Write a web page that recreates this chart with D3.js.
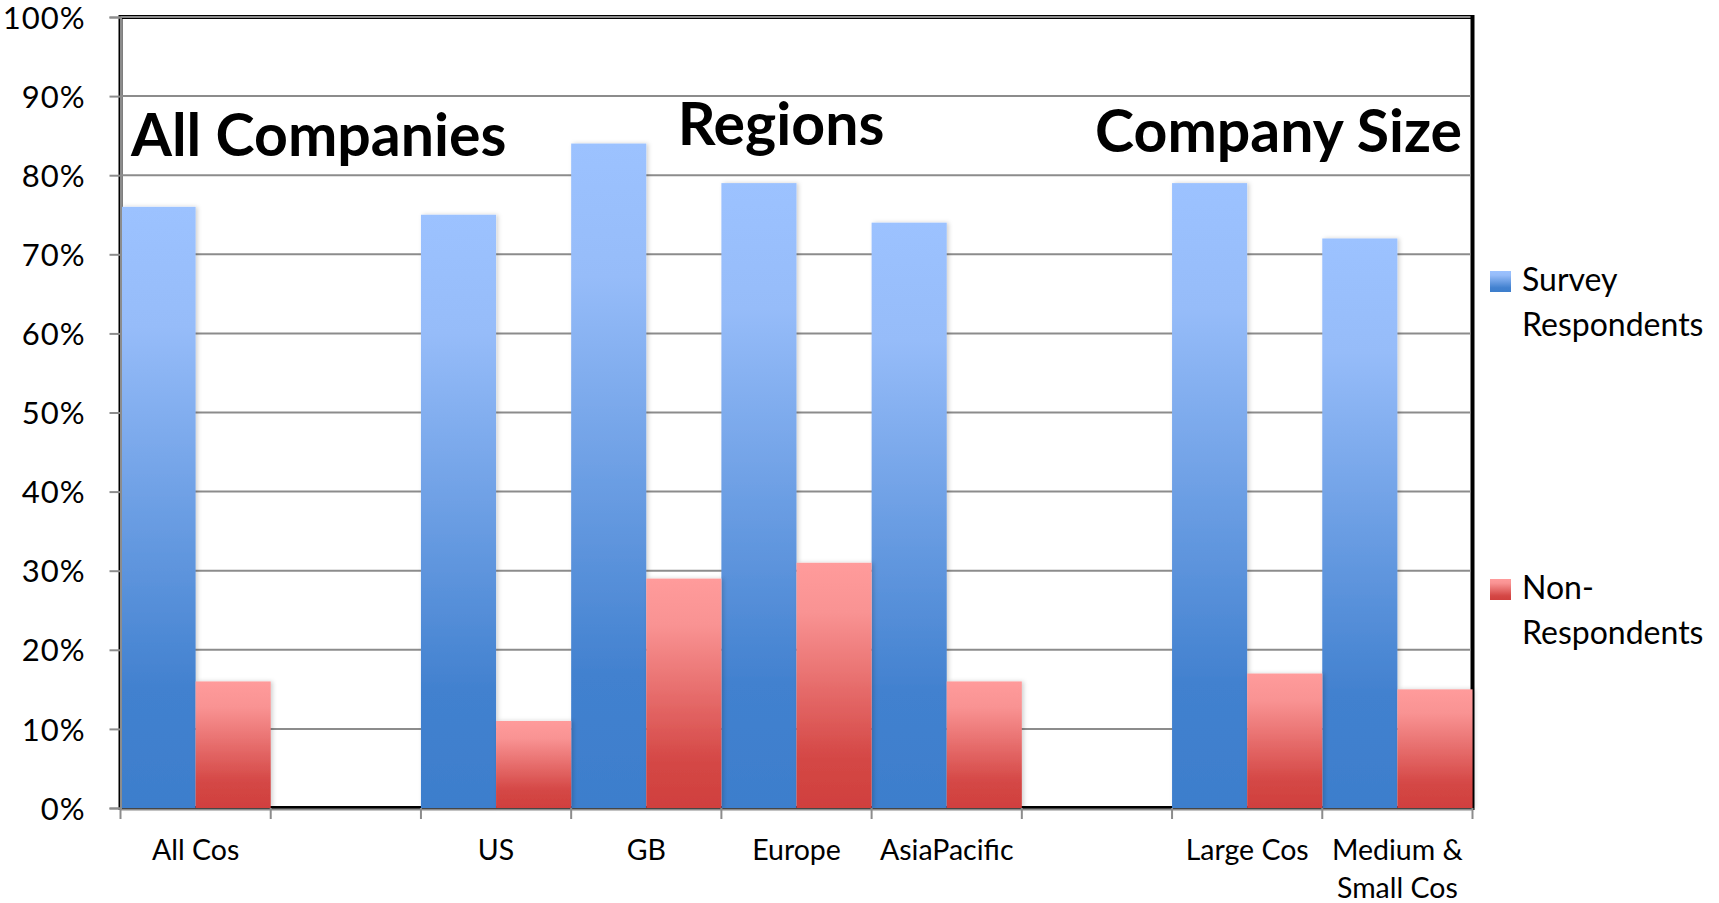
<!DOCTYPE html>
<html>
<head>
<meta charset="utf-8">
<script src="https://cdn.jsdelivr.net/npm/d3@7/dist/d3.min.js"></script>
<style>
  html, body { margin: 0; padding: 0; background: #fff; }
  svg { display: block; font-family: Lato, "Open Sans", sans-serif; }
</style>
</head>
<body>
<svg id="chart" width="1719" height="903"></svg>
<script>
// ---- data ----
const categories = ["All Cos", "", "US", "GB", "Europe", "AsiaPacific", "", "Large Cos", "Medium & Small Cos"];
const categoryLines = [["All Cos"], [], ["US"], ["GB"], ["Europe"], ["AsiaPacific"], [], ["Large Cos"], ["Medium &", "Small Cos"]];
const surveyRespondents = [0.76, null, 0.75, 0.84, 0.79, 0.74, null, 0.79, 0.72];
const nonRespondents    = [0.16, null, 0.11, 0.29, 0.31, 0.16, null, 0.17, 0.15];
const seriesNames = ["Survey Respondents", "Non-Respondents"];
const legendLines = [["Survey", "Respondents"], ["Non-", "Respondents"]];
const yTicks = [0, 0.1, 0.2, 0.3, 0.4, 0.5, 0.6, 0.7, 0.8, 0.9, 1.0];
const groupTitles = ["All Companies", "Regions", "Company Size"];

// ---- layout ----
const svg = d3.select("#chart");
const pLeft = 120.5, pRight = 1472.5, pTop = 17, pBottom = 808;

const x = d3.scaleBand().domain(d3.range(categories.length)).range([pLeft, pRight]).padding(0);
const y = d3.scaleLinear().domain([0, 1]).range([pBottom, pTop]);

const defs = svg.append("defs");
function grad(id, stops) {
  const g = defs.append("linearGradient").attr("id", id)
    .attr("x1", 0).attr("y1", 0).attr("x2", 0).attr("y2", 1);
  stops.forEach(s => g.append("stop").attr("offset", s[0]).attr("stop-color", s[1]));
}
grad("gBlue", [[0, "#9cc2ff"], [0.2, "#96bcf9"], [0.8, "#4281cf"], [1, "#3d7ecc"]]);
grad("gRed",  [[0, "#ff9b9b"], [0.2, "#f99393"], [0.8, "#d44745"], [1, "#d0403e"]]);
const f = defs.append("filter").attr("id", "shadow").attr("x", "-10%").attr("y", "-5%").attr("width", "130%").attr("height", "110%");
f.append("feDropShadow").attr("dx", 2).attr("dy", 0).attr("stdDeviation", 2)
  .attr("flood-color", "#000").attr("flood-opacity", 0.18);

// frame
svg.append("rect").attr("x", pLeft).attr("y", pTop).attr("width", pRight - pLeft).attr("height", pBottom - pTop)
  .attr("fill", "none").attr("stroke", "#000").attr("stroke-width", 4);

// gridlines
svg.append("g").selectAll("line").data(yTicks.filter(d => d > 0)).join("line")
  .attr("x1", pLeft).attr("x2", pRight - 2)
  .attr("y1", d => y(d)).attr("y2", d => y(d))
  .attr("stroke", "#8c8c8c").attr("stroke-width", 2);

// bars
const bw = x.bandwidth() / 2;
const bars = svg.append("g");
[[surveyRespondents, "url(#gBlue)", 0], [nonRespondents, "url(#gRed)", 1]].forEach(([vals, fill, k]) => {
  bars.append("g").selectAll("rect")
    .data(vals.map((v, i) => ({ v, i })).filter(d => d.v != null)).join("rect")
    .attr("x", d => x(d.i) + k * bw).attr("width", bw)
    .attr("y", d => y(d.v)).attr("height", d => y(0) - y(d.v))
    .attr("fill", fill).attr("filter", "url(#shadow)");
});

// y axis
const yAxis = d3.axisLeft(y).tickValues(yTicks).tickFormat(d3.format(".0%")).tickSize(11).tickPadding(24);
const gy = svg.append("g").attr("transform", `translate(${pLeft},0)`).call(yAxis);
gy.select(".domain").attr("stroke", "#8c8c8c").attr("stroke-width", 2);
gy.selectAll(".tick line").attr("stroke", "#8c8c8c").attr("stroke-width", 2);
gy.selectAll(".tick text").attr("font-size", 31).attr("letter-spacing", 1).attr("fill", "#000")
  .attr("font-family", "Lato, sans-serif").attr("dy", "0.36em");

// x axis line + ticks at band boundaries
svg.append("line").attr("x1", pLeft).attr("x2", pRight).attr("y1", pBottom + 1.5).attr("y2", pBottom + 1.5)
  .attr("stroke", "#8c8c8c").attr("stroke-width", 2);
const bounds = d3.range(categories.length).map(i => x(i)).concat([x(categories.length - 1) + x.bandwidth()]);
svg.append("g").selectAll("line").data(bounds).join("line")
  .attr("x1", d => d).attr("x2", d => d).attr("y1", pBottom).attr("y2", pBottom + 11)
  .attr("stroke", "#8c8c8c").attr("stroke-width", 2);

// x labels
const xl = svg.append("g").selectAll("text").data(categoryLines.map((l, i) => ({ l, i }))).join("text")
  .attr("x", d => x(d.i) + x.bandwidth() / 2).attr("y", 860)
  .attr("text-anchor", "middle").attr("font-size", 28.5).attr("fill", "#000");
xl.selectAll("tspan").data(d => d.l.map((t, j) => ({ t, j, cx: x(d.i) + x.bandwidth() / 2 }))).join("tspan")
  .attr("x", d => d.cx).attr("dy", d => d.j === 0 ? 0 : 38).text(d => d.t);

// group titles
const tStyle = s => s.attr("font-size", 59).attr("font-weight", 700).attr("fill", "#000");
svg.append("text").attr("x", 131).attr("y", 156).attr("text-anchor", "start").text(groupTitles[0]).call(tStyle);
svg.append("text").attr("x", 781).attr("y", 145).attr("text-anchor", "middle").text(groupTitles[1]).call(tStyle);
svg.append("text").attr("x", 1462).attr("y", 152).attr("text-anchor", "end").text(groupTitles[2]).call(tStyle);

// legend
const legendY = [271, 579];
const lg = svg.append("g");
seriesNames.forEach((name, k) => {
  lg.append("rect").attr("x", 1490).attr("y", legendY[k]).attr("width", 21).attr("height", 21)
    .attr("fill", k === 0 ? "url(#gBlue)" : "url(#gRed)");
  const t = lg.append("text").attr("x", 1522).attr("y", legendY[k] + 20).attr("font-size", 32).attr("fill", "#000");
  legendLines[k].forEach((line, j) => t.append("tspan").attr("x", 1522).attr("dy", j === 0 ? 0 : 45).text(line));
});
</script>
</body>
</html>
